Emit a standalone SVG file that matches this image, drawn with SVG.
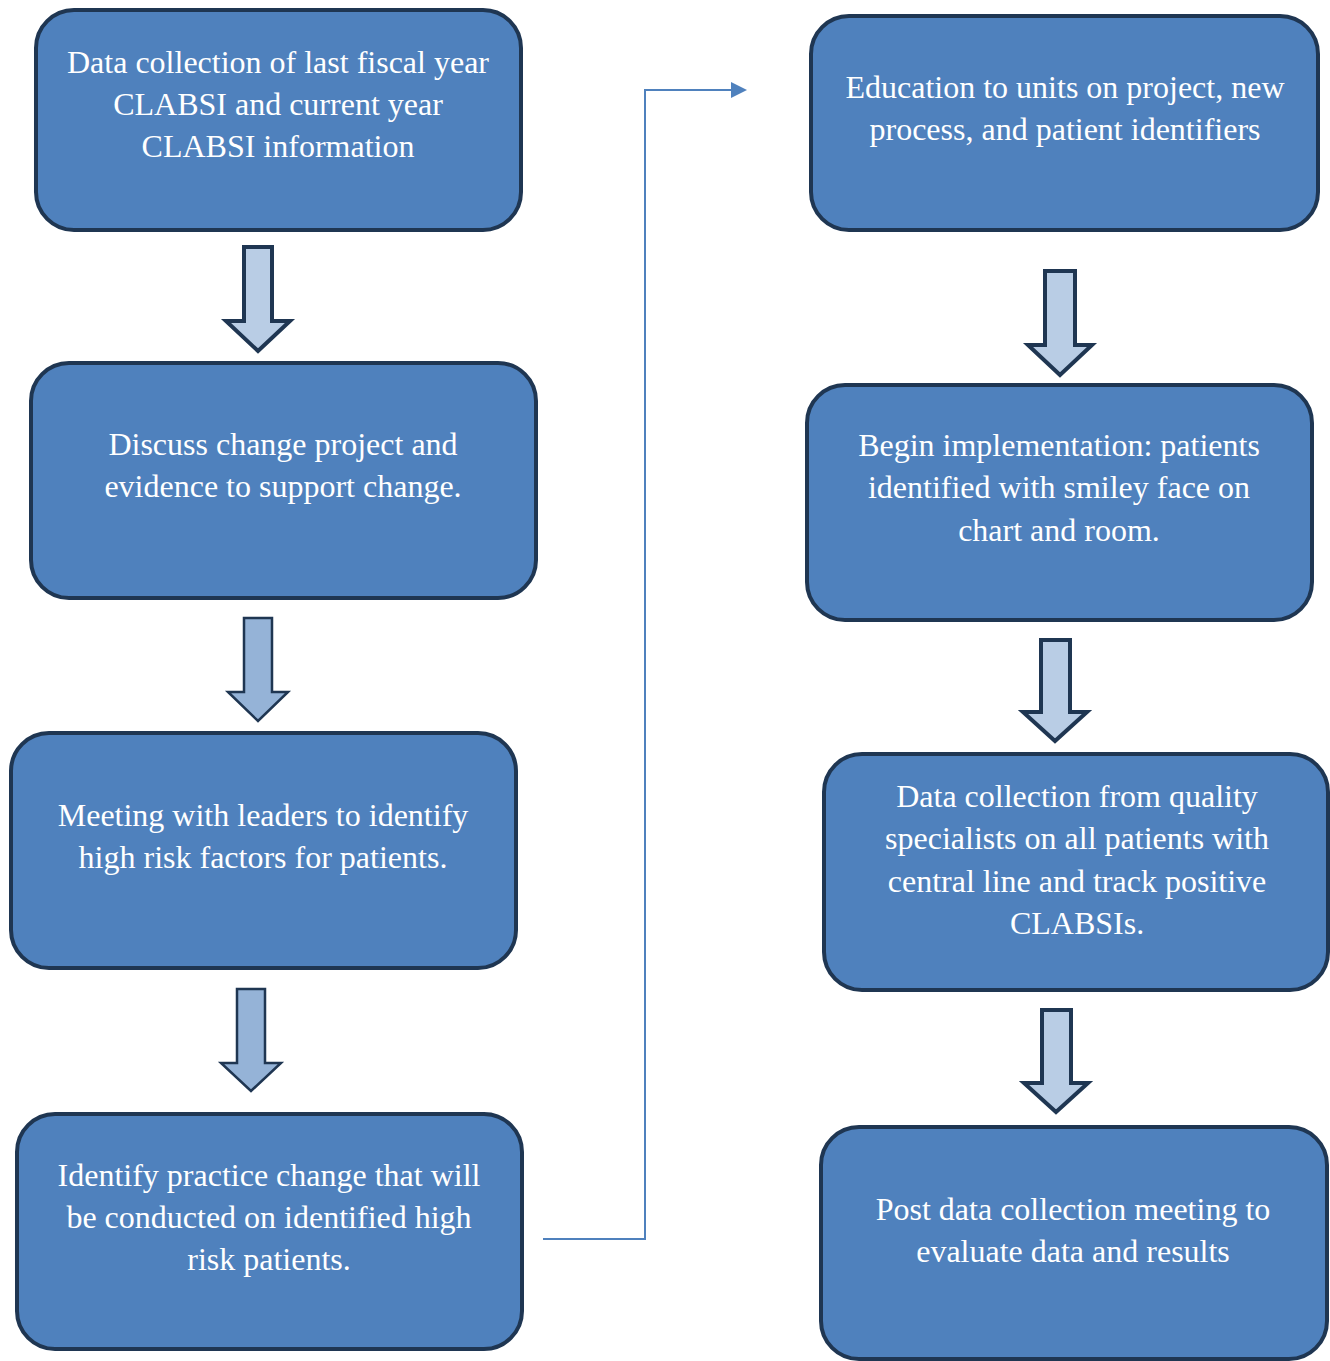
<svg xmlns="http://www.w3.org/2000/svg" width="1330" height="1361" viewBox="0 0 1330 1361">
<style>
.box{fill:#4F81BD;stroke:#1F3652;stroke-width:4}
.t{font-family:"Liberation Serif","Times New Roman",serif;font-size:32px;fill:#FFFFFF;text-anchor:middle}
.a1{fill:#B9CDE5;stroke:#1F3652;stroke-width:4;stroke-linejoin:miter}
.a2{fill:#95B3D7;stroke:#1F3652;stroke-width:2.5;stroke-linejoin:miter}
.conn{fill:none;stroke:#4F81BD;stroke-width:2}
</style>
<defs>
<marker id="ah" markerWidth="8" markerHeight="8" refX="7" refY="4" orient="auto" markerUnits="strokeWidth">
<path d="M0,0 L8,4 L0,8 Z" fill="#4F81BD"/>
</marker>
</defs>
<rect width="1330" height="1361" fill="#FFFFFF"/>
<g id="connectors">
<polyline class="conn" points="543,1239 645,1239 645,90 745,90" marker-end="url(#ah)"/>
<polygon class="a1" points="244,247 272,247 272,321 290,321 258,351 226,321 244,321"/>
<polygon class="a2" points="244,618 272,618 272,692 288,692 258,721 228,692 244,692"/>
<polygon class="a2" points="237,989 265,989 265,1063 281,1063 251,1091 221,1063 237,1063"/>
<polygon class="a1" points="1045,271 1075,271 1075,345 1092,345 1060,375 1028,345 1045,345"/>
<polygon class="a1" points="1041,640 1070,640 1070,712 1087,712 1055,741 1023,712 1041,712"/>
<polygon class="a1" points="1042,1010 1071,1010 1071,1083 1088,1083 1056,1112 1024,1083 1042,1083"/>
</g>
<g id="n1">
<rect class="box" x="36" y="10" width="485" height="220" rx="38"/>
<text class="t" x="278" y="73">Data collection of last fiscal year</text>
<text class="t" x="278" y="115">CLABSI and current year</text>
<text class="t" x="278" y="157">CLABSI information</text>
</g>
<g id="n2">
<rect class="box" x="31" y="363" width="505" height="235" rx="38"/>
<text class="t" x="283" y="455">Discuss change project and</text>
<text class="t" x="283" y="497">evidence to support change.</text>
</g>
<g id="n3">
<rect class="box" x="11" y="733" width="505" height="235" rx="38"/>
<text class="t" x="263" y="826">Meeting with leaders to identify</text>
<text class="t" x="263" y="868">high risk factors for patients.</text>
</g>
<g id="n4">
<rect class="box" x="17" y="1114" width="505" height="235" rx="38"/>
<text class="t" x="269" y="1186">Identify practice change that will</text>
<text class="t" x="269" y="1228">be conducted on identified high</text>
<text class="t" x="269" y="1270">risk patients.</text>
</g>
<g id="n5">
<rect class="box" x="811" y="16" width="507" height="214" rx="38"/>
<text class="t" x="1065" y="98">Education to units on project, new</text>
<text class="t" x="1065" y="140">process, and patient identifiers</text>
</g>
<g id="n6">
<rect class="box" x="807" y="385" width="505" height="235" rx="38"/>
<text class="t" x="1059" y="456">Begin implementation: patients</text>
<text class="t" x="1059" y="498">identified with smiley face on</text>
<text class="t" x="1059" y="541">chart and room.</text>
</g>
<g id="n7">
<rect class="box" x="824" y="754" width="504" height="236" rx="38"/>
<text class="t" x="1077" y="807">Data collection from quality</text>
<text class="t" x="1077" y="849">specialists on all patients with</text>
<text class="t" x="1077" y="892">central line and track positive</text>
<text class="t" x="1077" y="934">CLABSIs.</text>
</g>
<g id="n8">
<rect class="box" x="821" y="1127" width="506" height="232" rx="38"/>
<text class="t" x="1073" y="1220">Post data collection meeting to</text>
<text class="t" x="1073" y="1262">evaluate data and results</text>
</g>
</svg>
